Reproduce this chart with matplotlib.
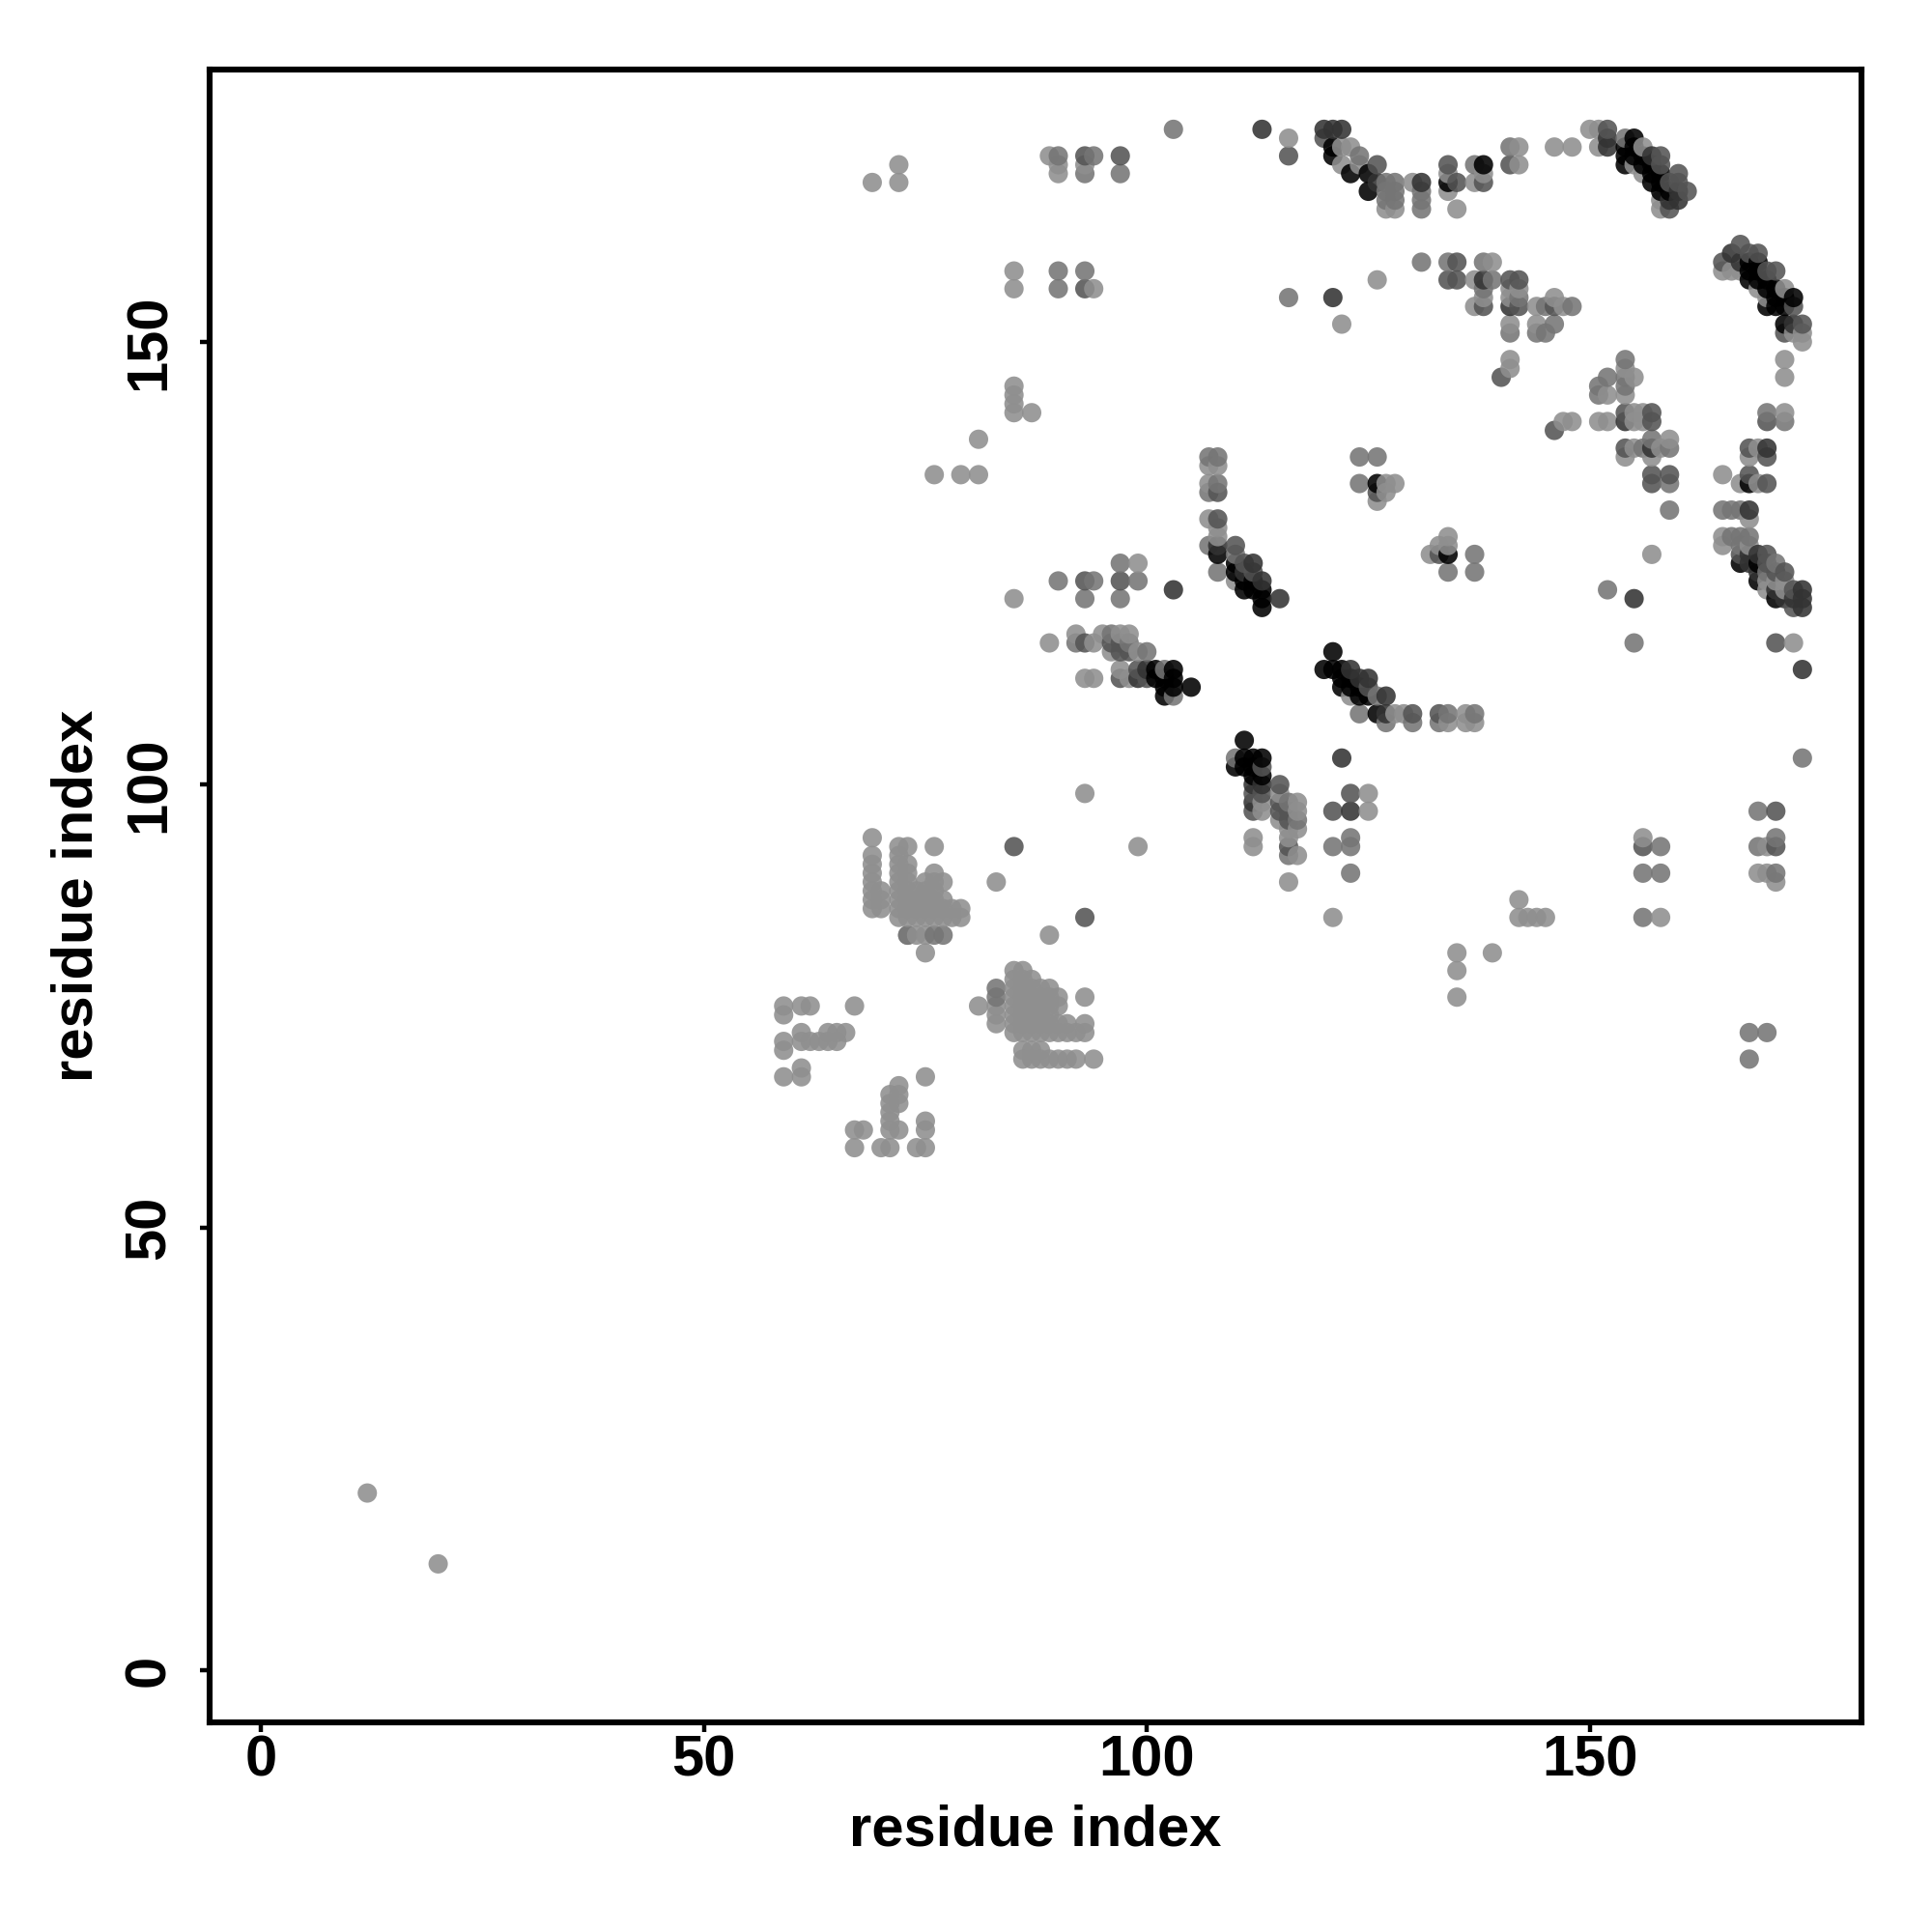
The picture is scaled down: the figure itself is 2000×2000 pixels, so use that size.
import numpy as np
import matplotlib
matplotlib.use('Agg')
import matplotlib.pyplot as plt

plt.rcParams['font.family'] = ['Liberation Sans', 'DejaVu Sans']
plt.rcParams['font.weight'] = 'bold'

# residue pairs (i, j), grouped by how dark the point is
light = [
    (12,20),(20,12),
    (69,94),(69,92),(69,91),(69,90),(69,89),(69,88),(69,87),(69,86),(70,88),(70,87),(70,86),
    (72,93),(72,92),(72,91),(72,90),(72,89),(72,88),(72,87),(72,86),(72,85),
    (73,93),(73,91),(73,90),(73,89),(73,88),(73,87),(73,86),(73,85),(73,83),
    (74,88),(74,87),(74,86),(74,85),(74,83),(75,89),(75,88),(75,87),(75,86),(75,85),(75,83),(75,81),
    (76,93),(76,90),(76,89),(76,88),(76,87),(76,86),(76,85),(77,89),(77,87),(77,86),(77,85),
    (78,86),(78,85),(79,86),(79,85),(83,89),(89,83),(93,99),(99,93),
    (83,75),(83,74),(83,73),(81,75),(85,79),(85,78),(85,77),(85,76),(85,75),(85,74),(85,73),(85,72),
    (86,79),(86,78),(86,77),(86,76),(86,75),(86,74),(86,73),(86,72),(86,70),(86,69),
    (87,78),(87,77),(87,76),(87,75),(87,74),(87,73),(87,72),(87,70),(87,69),
    (88,77),(88,76),(88,75),(88,74),(88,73),(88,72),(88,70),(88,69),
    (89,77),(89,76),(89,75),(89,74),(89,73),(89,72),(89,69),(90,76),(90,75),(90,73),(90,72),(90,69),
    (91,73),(91,72),(91,69),(92,72),(92,69),(93,76),(93,73),(93,72),(94,69),
    (59,75),(59,74),(59,71),(59,70),(59,67),(61,75),(61,72),(61,71),(61,68),(61,67),(62,75),(62,71),
    (63,71),(64,72),(64,71),(65,72),(65,71),(66,72),(67,75),
    (75,67),(72,66),(71,65),(71,64),(71,63),(71,62),(71,61),(72,65),(72,64),(72,61),(75,62),(75,61),
    (67,61),(68,61),(67,59),(70,59),(71,59),(74,59),(75,59),
    (69,168),(72,170),(72,168),(85,145),(85,144),(85,143),(85,142),(87,142),(81,139),(76,135),(79,135),(81,135),
    (85,121),(89,116),(99,125),(85,158),(85,156),(89,171),(90,170),(90,169),(93,170),(94,156),
    (116,173),(122,152),(126,157),(122,172),(122,170),(123,172),(124,170),(127,165),(128,165),(130,168),
    (134,169),(134,167),(135,165),(137,168),(138,169),(142,172),(142,170),(146,172),(148,172),
    (150,174),(151,174),(151,172),(155,170),(156,172),(156,169),(158,166),(158,165),
    (165,158),(166,158),(167,158),(169,156),(170,155),(172,156),(173,151),(174,151),(174,150),(172,148),(172,146),(172,142),
    (154,147),(155,146),(154,144),(152,144),(151,141),(152,141),(147,141),(148,141),
    (155,142),(155,141),(156,142),(156,141),(154,137),(155,138),(157,137),(158,138),(159,139),(157,126),
    (165,135),(167,134),(169,134),(169,138),(168,137),(168,130),(165,128),(165,127),(168,127),
    (170,123),(170,122),(171,123),(172,123),(172,122),(173,116),
    (107,136),(108,136),(107,134),(107,130),(108,129),(108,128),(110,123),(123,110),(128,108),(129,108),
    (134,107),(136,108),(136,107),(137,107),(126,132),(127,134),(127,133),(128,134),
    (134,128),(134,127),(133,127),(132,126),
    (92,117),(94,116),(95,117),(96,115),(97,117),(98,117),(99,115),(93,112),(94,112),(97,113),(98,112),
    (112,94),(112,93),(113,98),(113,97),(115,99),(115,96),(116,95),(116,94),(117,98),(117,97),(117,95),(117,92),(116,89),
    (125,99),(125,97),(121,85),(135,81),(135,79),(135,76),(139,81),(142,87),(142,85),(143,85),(144,85),(145,85),
    (156,94),(158,85),(170,93),(169,90),(170,90),(171,89),
    (139,159),(137,157),(138,155),(137,154),(141,156),(142,156),(141,155),(144,154),(146,155),(147,154),
    (141,152),(144,152),(141,148),(141,147),
]
mid = [
    (76,83),(77,83),(73,83),(83,77),(83,76),(90,158),(90,156),(93,158),(90,171),(94,171),(93,169),(97,169),(103,174),
    (116,155),(124,171),(127,168),(128,168),(127,167),(128,167),(127,166),(128,166),(131,167),(131,166),(131,165),
    (137,170),(141,172),(131,159),(134,159),(138,159),(139,157),(138,156),(142,155),(145,154),(148,154),(141,151),
    (144,151),(145,151),(146,152),(154,173),(170,142),(172,141),(154,148),(154,146),(154,145),(152,146),(151,145),(151,144),
    (156,138),(157,139),(159,138),(159,134),(159,131),(165,131),(166,131),(167,131),(166,128),(167,128),(168,128),(167,127),
    (170,124),(171,125),(152,122),(155,116),(174,103),(107,137),(108,137),(108,134),(107,133),(107,127),(108,124),
    (110,126),(126,110),(124,108),(127,107),(130,107),(133,107),(134,108),(137,108),(124,137),(126,137),(124,134),
    (134,124),(137,126),(137,124),(90,123),(94,123),(93,121),(97,125),(99,123),(97,121),
    (92,116),(96,117),(98,116),(100,115),(102,113),(103,110),(110,103),(116,98),(116,92),(117,96),
    (123,94),(121,93),(123,93),(123,90),(158,93),(156,90),(158,90),(156,85),
    (169,97),(169,93),(171,94),(171,90),(168,72),(170,72),(168,69),
]
dark = [
    (85,93),(93,85),(93,123),(97,123),(93,171),(93,156),(97,171),(116,171),(120,173),(126,170),(134,170),(135,168),
    (138,168),(141,170),(135,159),(134,157),(135,157),(141,157),(142,157),(138,154),(142,154),(146,154),(140,146),
    (152,174),(158,171),(158,170),(159,168),(159,165),(160,169),(160,168),(161,167),(165,159),(167,161),(168,160),(169,160),
    (170,158),(171,158),(173,154),(172,151),(174,152),(170,141),(146,140),(154,142),(157,142),(157,141),(154,138),
    (157,135),(157,134),(159,135),(168,135),(170,134),(168,138),(170,137),(167,126),(170,126),(170,125),(171,124),
    (172,124),(173,122),(173,120),(171,116),(108,133),(108,130),(110,127),(111,125),(112,124),(125,111),(130,108),(133,108),
    (126,133),(133,126),(93,116),(96,116),(97,116),(97,115),(98,115),(97,112),(99,113),(100,112),
    (112,99),(112,97),(113,102),(113,99),(115,100),(115,98),(115,97),(116,97),(116,96),(116,93),
    (123,99),(121,97),(156,93),(171,97),(171,93),
]
very_dark = [
    (103,122),(113,174),(120,174),(121,174),(122,174),(126,168),(131,168),(121,155),(141,154),(138,157),
    (152,173),(152,172),(154,141),(157,171),(159,166),(160,167),(160,166),(166,160),(167,159),(173,152),
    (157,138),(168,131),(168,126),(168,125),(169,126),(169,124),(170,138),(171,122),(172,121),(173,121),
    (174,122),(174,121),(174,120),(155,121),(174,113),(108,127),(111,124),(112,125),(113,123),(115,121),
    (123,113),(124,112),(125,112),(127,108),(127,110),(99,112),(100,113),(112,100),(112,98),(113,100),(122,103),(123,97),
]
black = [
    (121,172),(121,171),(123,169),(125,169),(125,167),(134,168),(138,170),
    (154,172),(154,171),(154,170),(155,173),(155,172),(155,171),(156,171),(156,170),(157,170),(157,169),(157,168),
    (158,169),(158,168),(158,167),(159,167),(168,159),(168,158),(168,157),(169,159),(169,158),(169,157),
    (170,157),(170,156),(170,154),(171,156),(171,155),(171,154),(172,155),(172,154),(173,155),(172,152),
    (168,134),(167,125),(169,125),(169,123),(171,121),(108,126),(110,125),(110,124),(111,123),(111,122),(112,123),(112,122),
    (113,122),(113,121),(113,120),(120,113),(121,115),(121,113),(122,113),(122,112),(122,111),(123,112),(123,111),
    (124,111),(124,110),(125,110),(126,108),(126,134),(134,126),
    (101,113),(101,112),(102,112),(102,111),(102,110),(103,113),(103,112),(103,111),(105,111),
    (111,105),(110,102),(111,103),(111,102),(112,103),(112,102),(112,101),(113,103),(113,101),
]
tiers = [light, mid, dark, very_dark, black]
tier_greys = [0.56, 0.46, 0.33, 0.2, 0.0]

xticks = [0, 50, 100, 150]
yticks = [0, 50, 100, 150]

# stack everything, draw in i then j order so later residues sit on top
xs, ys, greys = [], [], []
for pts, g in zip(tiers, tier_greys):
    for i, j in pts:
        xs.append(i)
        ys.append(j)
        greys.append(g)
xs = np.array(xs)
ys = np.array(ys)
greys = np.array(greys)
order = np.lexsort((ys, xs))

fig = plt.figure(figsize=(10, 10), dpi=200)
ax = fig.add_axes([217 / 2000, 1 - 1783 / 2000, 1710 / 2000, 1711 / 2000])
colors = [(g, g, g, 0.88) for g in greys[order]]
ax.scatter(xs[order], ys[order], s=52, c=colors, linewidths=0)

ax.set_xlim(-5.8, 180.67)
ax.set_ylim(-5.9, 180.75)
ax.set_xticks(xticks)
ax.set_yticks(yticks)
ax.tick_params(axis='both', length=3.5, width=1.6, labelsize=21.5)
ax.tick_params(axis='x', pad=1)
ax.tick_params(axis='y', pad=9)
for lab in ax.get_yticklabels():
    lab.set_rotation(90)
    lab.set_va('center')
for sp in ax.spines.values():
    sp.set_linewidth(2.2)

ax.set_xlabel('residue index', fontsize=21.5, fontweight='bold', labelpad=6)
ax.set_ylabel('residue index', fontsize=21.5, fontweight='bold', labelpad=7)

plt.savefig('out.png', dpi=200)
plt.close()
